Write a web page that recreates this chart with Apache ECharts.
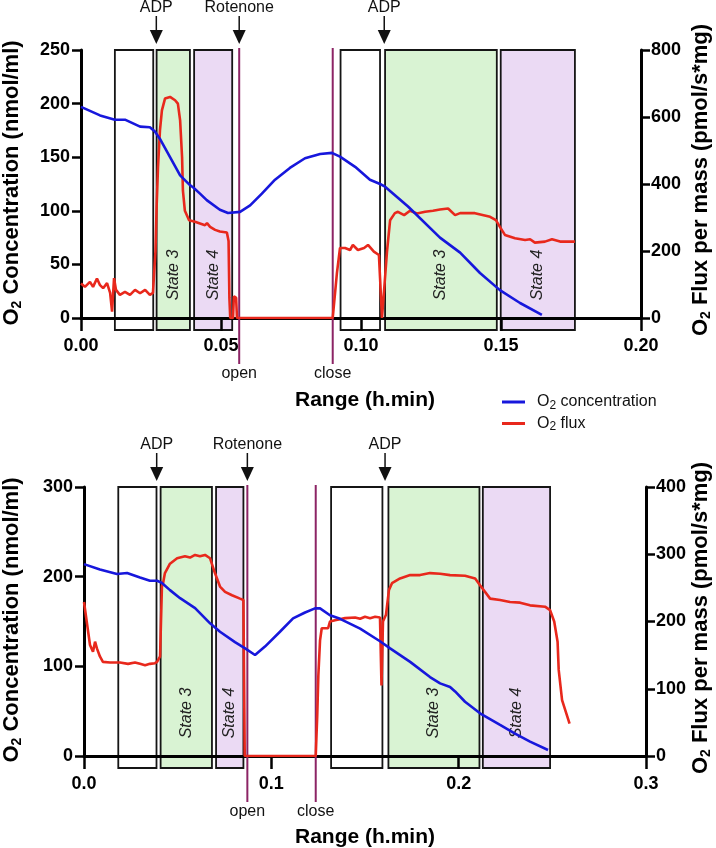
<!DOCTYPE html>
<html><head><meta charset="utf-8">
<script src="https://cdn.jsdelivr.net/npm/echarts@6/dist/echarts.min.js"></script>
<style>html,body{margin:0;padding:0;background:#fff}#c{width:716px;height:848px}</style>
</head><body><div id="c"></div>
<script>
// ---------------- DATA ----------------
const seriesNames = ['O2 concentration', 'O2 flux'];

// tick values
const topXTicks = [0, 0.05, 0.10, 0.15, 0.20];
const topLeftTicks = [0, 50, 100, 150, 200, 250];
const topRightTicks = [0, 200, 400, 600, 800];
const botXTicks = [0, 0.1, 0.2, 0.3];
const botLeftTicks = [0, 100, 200, 300];
const botRightTicks = [0, 100, 200, 300, 400];

// top panel: O2 concentration
const topConcTime = [0, 0.0068, 0.0121, 0.0157, 0.0211, 0.0246, 0.0264, 0.0282, 0.0318, 0.0354, 0.0389, 0.0400, 0.0425, 0.0449, 0.0496, 0.0525, 0.0568, 0.0604, 0.0646, 0.0693, 0.0746, 0.0800, 0.0854, 0.0896, 0.0925, 0.0979, 0.1032, 0.1068, 0.1086, 0.1168, 0.1282, 0.1354, 0.1425, 0.1496, 0.1568, 0.1646];
const topConcValue = [197, 189, 185, 185, 178.5, 178, 174, 167, 150, 133, 124, 122, 116, 110, 101, 98, 99, 105, 116, 129, 140, 149, 153, 154, 150.5, 141, 129, 125, 122.5, 104, 75, 61, 42, 26, 14, 3];

// top panel: O2 flux
const topFluxTime = [0, 0.0014, 0.0032, 0.0043, 0.0057, 0.0068, 0.0079, 0.0093, 0.0104, 0.0111, 0.0118, 0.0125, 0.0139, 0.0157, 0.0175, 0.0193, 0.0211, 0.0229, 0.0246, 0.0257, 0.0262, 0.0266, 0.0270, 0.0275, 0.0282, 0.0289, 0.0300, 0.0318, 0.0336, 0.0346, 0.0354, 0.0361, 0.0364, 0.0371, 0.0386, 0.0407, 0.0425, 0.0443, 0.0450, 0.0461, 0.0479, 0.0496, 0.0521, 0.0527, 0.0530, 0.0533, 0.0543, 0.0546, 0.0554, 0.0557, 0.0899, 0.0914, 0.0925, 0.0943, 0.0961, 0.0971, 0.0989, 0.1011, 0.1025, 0.1046, 0.1064, 0.1068, 0.1075, 0.1082, 0.1093, 0.1104, 0.1121, 0.1132, 0.1154, 0.1175, 0.1200, 0.1229, 0.1257, 0.1282, 0.1311, 0.1336, 0.1354, 0.1407, 0.1461, 0.1482, 0.1496, 0.1514, 0.1550, 0.1586, 0.1604, 0.1621, 0.1657, 0.1682, 0.1711, 0.1764];
const topFluxValue = [103, 93, 108, 93, 118, 98, 89, 104, 75, 19, 119, 84, 69, 78, 69, 84, 74, 84, 69, 75, 72, 200, 330, 450, 560, 620, 655, 660, 650, 640, 590, 480, 380, 320, 292, 287, 282, 277, 283, 272, 263, 258, 255, 230, 60, 0, 0, 65, 60, 0, 0, 134, 209, 209, 203, 218, 203, 209, 218, 198, 188, 120, 0, 0, 200, 292, 313, 317, 307, 320, 312, 317, 320, 324, 327, 307, 313, 313, 302, 292, 272, 248, 238, 233, 235, 225, 228, 235, 228, 228];

// bottom panel: O2 concentration
const botConcTime = [0, 0.0085, 0.0176, 0.0230, 0.0299, 0.0352, 0.0390, 0.0416, 0.0459, 0.0513, 0.0593, 0.0673, 0.0726, 0.0806, 0.0860, 0.0913, 0.0966, 0.1046, 0.1116, 0.1180, 0.1233, 0.1260, 0.1313, 0.1367, 0.1474, 0.1580, 0.1634, 0.1741, 0.1847, 0.1901, 0.1954, 0.1981, 0.2034, 0.2114, 0.2221, 0.2301, 0.2381, 0.2477];
const botConcValue = [214, 208, 203, 204, 199, 195.5, 195.5, 193, 185, 176, 165, 148, 138.6, 127, 120, 112.6, 122, 138.6, 153.5, 160, 164.6, 164.6, 157, 153, 142, 128, 120, 105, 88, 81, 77, 72, 60.5, 47.6, 34.6, 25, 16, 6.7];

// bottom panel: O2 flux
const botFluxTime = [0, 0.0011, 0.0021, 0.0032, 0.0048, 0.0059, 0.0069, 0.0085, 0.0101, 0.0139, 0.0192, 0.0235, 0.0272, 0.0299, 0.0326, 0.0352, 0.0379, 0.0390, 0.0406, 0.0411, 0.0416, 0.0422, 0.0432, 0.0459, 0.0497, 0.0539, 0.0566, 0.0593, 0.0619, 0.0646, 0.0673, 0.0699, 0.0726, 0.0753, 0.0790, 0.0833, 0.0851, 0.0858, 0.1237, 0.1245, 0.1251, 0.1260, 0.1269, 0.1303, 0.1313, 0.1340, 0.1394, 0.1447, 0.1474, 0.1500, 0.1527, 0.1554, 0.1580, 0.1588, 0.1596, 0.1612, 0.1628, 0.1644, 0.1687, 0.1741, 0.1794, 0.1847, 0.1901, 0.1954, 0.2034, 0.2088, 0.2114, 0.2168, 0.2221, 0.2274, 0.2328, 0.2381, 0.2461, 0.2488, 0.2510, 0.2528, 0.2534, 0.2552, 0.2592];
const botFluxValue = [229, 207, 187, 165, 155, 170, 160, 148, 140, 139, 139, 137, 139, 137, 135, 137, 138, 140, 148, 200, 252, 257, 272, 286, 294, 297, 295, 299, 297, 299, 294, 272, 252, 244, 239, 234, 232, 0, 0, 60, 120, 172, 190, 190, 200, 202, 205, 206, 204, 207, 205, 207, 206, 105, 200, 210, 247, 257, 264, 269, 269, 272, 271, 269, 268, 264, 254, 234, 232, 229, 228, 224, 222, 217, 200, 170, 128, 83, 48];

// state boxes
const topBoxStart = [0.0121, 0.0270, 0.0404, 0.0927, 0.1086, 0.1499];
const topBoxEnd   = [0.0258, 0.0389, 0.0540, 0.1068, 0.1485, 0.1764];
const topBoxState = ['', 'State 3', 'State 4', '', 'State 3', 'State 4'];
const botBoxStart = [0.0183, 0.0409, 0.0705, 0.1319, 0.1625, 0.2129];
const botBoxEnd   = [0.0387, 0.0683, 0.0851, 0.1593, 0.2111, 0.2488];
const botBoxState = ['', 'State 3', 'State 4', '', 'State 3', 'State 4'];

// events
const topAdpTime = [0.0269, 0.1083];
const topOpenTime = 0.0565;
const topCloseTime = 0.0899;
const botAdpTime = [0.0388, 0.1607];
const botOpenTime = 0.0872;
const botCloseTime = 0.1237;

// ---------------- STYLE ----------------
const FONT = '"Liberation Sans", Arial, Helvetica, sans-serif';
const BLUE = '#1717dc';
const RED = '#e8281c';
const MAROON = '#8c2465';
const GREEN = '#d9f3d3';
const PURPLE = '#ebdaf4';

const zip = (a, b) => a.map((v, i) => [v, b[i]]);

function boxSeries(starts, ends, states, idx) {
  return {
    type: 'custom', xAxisIndex: idx, yAxisIndex: idx * 2, clip: false, silent: true, z: -1,
    data: starts.map((s, i) => [s, ends[i]]),
    encode: { x: [0, 1] },
    renderItem: (params, api) => {
      const st = states[params.dataIndex];
      const x0 = api.coord([api.value(0), 0])[0];
      const x1 = api.coord([api.value(1), 0])[0];
      const cs = params.coordSys;
      const y0 = cs.y, y1 = cs.y + cs.height + 12;
      const fill = st === 'State 3' ? GREEN : (st === 'State 4' ? PURPLE : '#ffffff');
      const children = [{
        type: 'rect', shape: { x: x0, y: y0, width: x1 - x0, height: y1 - y0 },
        style: { fill: fill, stroke: '#151515', lineWidth: 1.8 }
      }];
      if (st) {
        children.push({
          type: 'text', x: (x0 + x1) / 2, y: cs.y + cs.height - 43, rotation: Math.PI / 2,
          style: { text: st, fill: '#222', font: 'italic 16px ' + FONT, align: 'center', verticalAlign: 'middle', textAlign: 'center', textVerticalAlign: 'middle' }
        });
      }
      return { type: 'group', children: children };
    }
  };
}

function eventSeries(adpTimes, openTime, closeTime, idx) {
  const ev = adpTimes.map(t => ({ t: t, top: 'ADP', arrow: true }));
  ev.push({ t: openTime, top: 'Rotenone', arrow: true, line: true, bottom: 'open' });
  ev.push({ t: closeTime, line: true, bottom: 'close' });
  const txt = (s, x, y) => ({
    type: 'text', x: x, y: y,
    style: { text: s, fill: '#111', font: '16px ' + FONT, align: 'center', verticalAlign: 'middle', textAlign: 'center', textVerticalAlign: 'middle' }
  });
  return {
    type: 'custom', xAxisIndex: idx, yAxisIndex: idx * 2, clip: false, silent: true, z: 1,
    data: ev.map(e => [e.t]),
    encode: { x: 0 },
    renderItem: (params, api) => {
      const e = ev[params.dataIndex];
      const x = api.coord([api.value(0), 0])[0];
      const cs = params.coordSys;
      const yT = cs.y, yA = cs.y + cs.height;
      const ch = [];
      if (e.arrow) {
        ch.push(txt(e.top, x, yT - 42));
        ch.push({ type: 'line', shape: { x1: x, y1: yT - 34, x2: x, y2: yT - 19 }, style: { stroke: '#111', lineWidth: 1.5 } });
        ch.push({ type: 'polygon', shape: { points: [[x - 6.5, yT - 20], [x + 6.5, yT - 20], [x, yT - 6]] }, style: { fill: '#111' } });
      }
      if (e.line) {
        ch.push({ type: 'line', shape: { x1: x, y1: yT - 2, x2: x, y2: yA + 46 }, style: { stroke: MAROON, lineWidth: 2 } });
        ch.push(txt(e.bottom, x, yA + 56));
      }
      return { type: 'group', children: ch };
    }
  };
}

function lineSeries(name, t, v, xi, yi, color, z) {
  return {
    type: 'line', name: name, xAxisIndex: xi, yAxisIndex: yi, data: zip(t, v),
    showSymbol: false, symbol: 'none', lineStyle: { color: color, width: 2.6 }, itemStyle: { color: color },
    z: z, animation: false
  };
}

const labelStyle = { fontSize: 18, fontWeight: 'bold', color: '#000', fontFamily: FONT };

function xAxis(gi, ticks, dec) {
  return {
    gridIndex: gi, type: 'value', min: ticks[0], max: ticks[ticks.length - 1], interval: ticks[1] - ticks[0],
    axisLine: { show: true, onZero: false, lineStyle: { color: '#000', width: 3 } },
    axisTick: { show: true, length: 13, lineStyle: { color: '#000', width: 2.5 } },
    axisLabel: Object.assign({ margin: 19, showMinLabel: true, showMaxLabel: true, formatter: v => v.toFixed(dec) }, labelStyle),
    splitLine: { show: false }
  };
}
function yAxis(gi, ticks, pos) {
  return {
    gridIndex: gi, type: 'value', position: pos, min: ticks[0], max: ticks[ticks.length - 1], interval: ticks[1] - ticks[0],
    axisLine: { show: true, onZero: false, lineStyle: { color: '#000', width: 3 } },
    axisTick: { show: true, length: 9, lineStyle: { color: '#000', width: 2.5 } },
    axisLabel: Object.assign({ margin: pos === 'left' ? 11 : 10, showMinLabel: true, showMaxLabel: true }, labelStyle),
    splitLine: { show: false }
  };
}

const titleRich = {
  a: { fontSize: 22, fontWeight: 'bold', fontFamily: FONT, fill: '#000', lineHeight: 24 },
  s: { fontSize: 14, fontWeight: 'bold', fontFamily: FONT, fill: '#000', lineHeight: 2, verticalAlign: 'bottom' }
};
function vTitle(x, y, rest) {
  return {
    type: 'text', x: x, y: y, rotation: Math.PI / 2,
    style: { text: '{a|O}{s|2}{a| ' + rest + '}', rich: titleRich, fill: '#000', align: 'center', verticalAlign: 'middle', textAlign: 'center', textVerticalAlign: 'middle' }
  };
}
function hTitle(x, y, s) {
  return {
    type: 'text', x: x, y: y,
    style: { text: s, fill: '#000', font: 'bold 21px ' + FONT, align: 'center', verticalAlign: 'middle', textAlign: 'center', textVerticalAlign: 'middle' }
  };
}

const option = {
  animation: false,
  backgroundColor: '#fff',
  grid: [
    { left: 81, top: 50, width: 560, height: 268, containLabel: false },
    { left: 84, top: 487, width: 562, height: 269, containLabel: false }
  ],
  xAxis: [xAxis(0, topXTicks, 2), xAxis(1, botXTicks, 1)],
  yAxis: [
    yAxis(0, topLeftTicks, 'left'), yAxis(0, topRightTicks, 'right'),
    yAxis(1, botLeftTicks, 'left'), yAxis(1, botRightTicks, 'right')
  ].map((a, i) => Object.assign(a, { gridIndex: i < 2 ? 0 : 1 })),
  legend: {
    data: seriesNames, orient: 'vertical', left: 497, top: 389, itemWidth: 23, itemHeight: 3, itemGap: 4,
    icon: 'rect', selectedMode: false,
    formatter: n => n === seriesNames[0] ? '{a|O}{s|2}{a| concentration}' : '{a|O}{s|2}{a| flux}',
    textStyle: {
      padding: [0, 0, 0, 7],
      rich: {
        a: { fontSize: 16, fontFamily: FONT, color: '#111', lineHeight: 19 },
        s: { fontSize: 12, fontFamily: FONT, color: '#111', lineHeight: 2, verticalAlign: 'bottom' }
      }
    }
  },
  graphic: [
    vTitle(12, 183, 'Concentration (nmol/ml)'),
    vTitle(701, 180, 'Flux per mass (pmol/s*mg)'),
    vTitle(12, 620, 'Concentration (nmol/ml)'),
    vTitle(701, 618, 'Flux per mass (pmol/s*mg)'),
    hTitle(365, 400, 'Range (h.min)'),
    hTitle(365, 837, 'Range (h.min)')
  ],
  series: [
    boxSeries(topBoxStart, topBoxEnd, topBoxState, 0),
    boxSeries(botBoxStart, botBoxEnd, botBoxState, 1),
    eventSeries(topAdpTime, topOpenTime, topCloseTime, 0),
    eventSeries(botAdpTime, botOpenTime, botCloseTime, 1),
    lineSeries(seriesNames[1], topFluxTime, topFluxValue, 0, 1, RED, 3),
    lineSeries(seriesNames[0], topConcTime, topConcValue, 0, 0, BLUE, 4),
    lineSeries(seriesNames[1], botFluxTime, botFluxValue, 1, 3, RED, 3),
    lineSeries(seriesNames[0], botConcTime, botConcValue, 1, 2, BLUE, 4)
  ]
};

const chart = echarts.init(document.getElementById('c'), null, { renderer: 'canvas' });
chart.setOption(option);
</script></body></html>
